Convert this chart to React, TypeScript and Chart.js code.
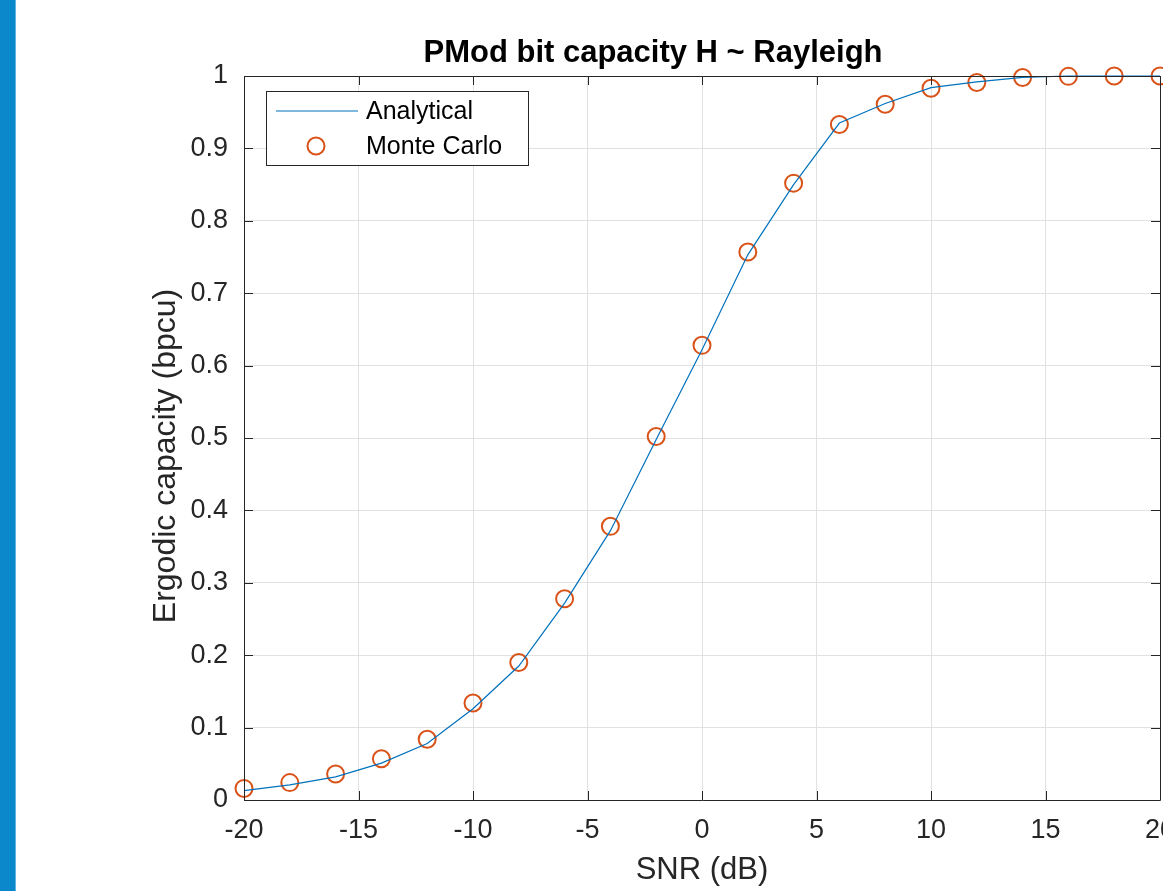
import React, { useEffect, useRef } from "react";
import { Chart, registerables } from "chart.js";

Chart.register(...registerables);

const snrDb = [-20, -18, -16, -14, -12, -10, -8, -6, -4, -2, 0, 2, 4, 6, 8, 10, 12, 14, 16, 18, 20];
const analytical = [0.013, 0.021, 0.032, 0.051, 0.078, 0.126, 0.185, 0.272, 0.372, 0.498, 0.622, 0.753, 0.85, 0.935, 0.962, 0.984, 0.992, 0.998, 1.0, 1.0, 1.0];
const monteCarlo = [0.016, 0.024, 0.036, 0.057, 0.084, 0.134, 0.19, 0.278, 0.378, 0.502, 0.628, 0.757, 0.852, 0.933, 0.961, 0.983, 0.991, 0.998, 0.9995, 1.0, 1.0];
const seriesNames = ["Analytical", "Monte Carlo"];
const chartTitle = "PMod bit capacity H ~ Rayleigh";
const xTitle = "SNR (dB)";
const yTitle = "Ergodic capacity (bpcu)";

const FONT = "'Liberation Sans', Arial, Helvetica, sans-serif";
const AXIS = "#262626";
const BLUE = "#0072BD";
const ORANGE = "#D95319";
const TICK_SIZE = 27;
const LABEL_SIZE = 31;
const YLABEL_SIZE = 32;
const TITLE_SIZE = 31;
const LEGEND_SIZE = 25;

const framePlugin = {
  id: "matlabFrame",
  afterDatasetsDraw(chart: any) {
    const { ctx, chartArea: a, scales } = chart;
    const xs = scales.x;
    const ys = scales.y;
    ctx.save();
    ctx.strokeStyle = AXIS;
    ctx.lineWidth = 1;
    ctx.beginPath();
    ctx.rect(a.left + 0.5, a.top + 0.5, a.right - a.left, a.bottom - a.top);
    ctx.stroke();
    const tl = 9;
    ctx.beginPath();
    xs.ticks.forEach((t: any) => {
      const px = Math.round(xs.getPixelForValue(t.value)) + 0.5;
      ctx.moveTo(px, a.bottom);
      ctx.lineTo(px, a.bottom - tl);
      ctx.moveTo(px, a.top);
      ctx.lineTo(px, a.top + tl);
    });
    ys.ticks.forEach((t: any) => {
      const py = Math.round(ys.getPixelForValue(t.value)) + 0.5;
      ctx.moveTo(a.left, py);
      ctx.lineTo(a.left + tl, py);
      ctx.moveTo(a.right, py);
      ctx.lineTo(a.right - tl, py);
    });
    ctx.stroke();
    ctx.restore();
  },
  afterDraw(chart: any) {
    const { ctx, chartArea: a } = chart;
    // y-axis title (MATLAB places it slightly below the axis centre here)
    ctx.save();
    ctx.fillStyle = AXIS;
    ctx.font = `${YLABEL_SIZE}px ${FONT}`;
    ctx.textAlign = "center";
    ctx.textBaseline = "middle";
    ctx.translate(166, (a.top + a.bottom) / 2 + 18);
    ctx.rotate(-Math.PI / 2);
    ctx.fillText(yTitle, 0, 0);
    ctx.restore();

    // legend
    const bx = a.left + 22;
    const by = a.top + 15;
    const bw = 262;
    const bh = 74;
    ctx.save();
    ctx.fillStyle = "#ffffff";
    ctx.fillRect(bx, by, bw, bh);
    ctx.strokeStyle = AXIS;
    ctx.lineWidth = 1;
    ctx.strokeRect(bx + 0.5, by + 0.5, bw, bh);
    const r1 = by + 20;
    const r2 = by + 55;
    ctx.strokeStyle = BLUE;
    ctx.lineWidth = 1.2;
    ctx.beginPath();
    ctx.moveTo(bx + 10, r1);
    ctx.lineTo(bx + 92, r1);
    ctx.stroke();
    ctx.strokeStyle = ORANGE;
    ctx.lineWidth = 2;
    ctx.beginPath();
    ctx.arc(bx + 50, r2, 8.5, 0, Math.PI * 2);
    ctx.stroke();
    ctx.fillStyle = "#000000";
    ctx.font = `${LEGEND_SIZE}px ${FONT}`;
    ctx.textBaseline = "middle";
    ctx.textAlign = "left";
    ctx.fillText(seriesNames[0], bx + 100, r1 + 1);
    ctx.fillText(seriesNames[1], bx + 100, r2 + 1);
    ctx.restore();
  },
};

export default function App() {
  const ref = useRef<HTMLCanvasElement | null>(null);

  useEffect(() => {
    document.body.style.margin = "0";
    const canvas = ref.current;
    if (!canvas) return;
    const titleLH = TITLE_SIZE * 1.2;
    const labelLH = LABEL_SIZE * 1.2;
    const titleCenter = 53;
    const chart = new Chart(canvas, {
      type: "line",
      data: {
        datasets: [
          {
            label: seriesNames[0],
            data: snrDb.map((x, i) => ({ x, y: analytical[i] })),
            borderColor: BLUE,
            borderWidth: 1.2,
            pointRadius: 0,
            tension: 0,
            fill: false,
            clip: false as any,
          },
          {
            label: seriesNames[1],
            data: snrDb.map((x, i) => ({ x, y: monteCarlo[i] })),
            showLine: false,
            borderColor: ORANGE,
            backgroundColor: "rgba(0,0,0,0)",
            pointBorderColor: ORANGE,
            pointBackgroundColor: "rgba(0,0,0,0)",
            pointBorderWidth: 2,
            pointRadius: 8.5,
            pointStyle: "circle",
            clip: false as any,
          },
        ],
      },
      options: {
        animation: false,
        responsive: false,
        devicePixelRatio: 1,
        layout: { padding: 0 },
        plugins: {
          legend: { display: false },
          tooltip: { enabled: false },
          title: {
            display: true,
            text: chartTitle,
            color: "#000000",
            font: { family: FONT, size: TITLE_SIZE, weight: "bold", lineHeight: 1.2 },
            padding: { top: titleCenter - titleLH / 2, bottom: 76 - (titleCenter - titleLH / 2) - titleLH },
          },
        },
        scales: {
          x: {
            type: "linear",
            min: -20,
            max: 20,
            afterFit: (s: any) => {
              s.height = 91;
            },
            ticks: {
              stepSize: 5,
              color: AXIS,
              padding: 14,
              maxRotation: 0,
              font: { family: FONT, size: TICK_SIZE },
            },
            grid: { color: "#e1e1e1", lineWidth: 1, drawTicks: false },
            border: { display: false },
            title: {
              display: true,
              text: xTitle,
              color: AXIS,
              font: { family: FONT, size: LABEL_SIZE, lineHeight: 1.2 },
              padding: { top: 0, bottom: 21 - labelLH / 2 },
            },
          },
          y: {
            type: "linear",
            min: 0,
            max: 1,
            afterFit: (s: any) => {
              s.width = 244;
            },
            ticks: {
              stepSize: 0.1,
              color: AXIS,
              padding: 16,
              font: { family: FONT, size: TICK_SIZE },
              callback: (v: any) => {
                const n = Number(v);
                if (Math.abs(n) < 1e-9) return "0";
                if (Math.abs(n - 1) < 1e-9) return "1";
                return n.toFixed(1);
              },
            },
            grid: { color: "#e1e1e1", lineWidth: 1, drawTicks: false },
            border: { display: false },
            title: { display: false },
          },
          yRight: {
            type: "linear",
            position: "right",
            min: 0,
            max: 1,
            afterFit: (s: any) => {
              s.width = 146;
            },
            ticks: { display: false },
            grid: { display: false, drawTicks: false },
            border: { display: false },
          },
        },
      },
      plugins: [framePlugin],
    });
    return () => chart.destroy();
  }, []);

  return (
    <div style={{ position: "absolute", left: 0, top: 0, width: 1163, height: 891, overflow: "hidden", background: "#ffffff" }}>
      <canvas ref={ref} width={1306} height={891} style={{ position: "absolute", left: 0, top: 0 }} />
      <div style={{ position: "absolute", left: 0, top: 0, width: 15, height: 891, background: "#0B87CC", borderRight: "1px solid #5FB4E4" }} />
    </div>
  );
}
